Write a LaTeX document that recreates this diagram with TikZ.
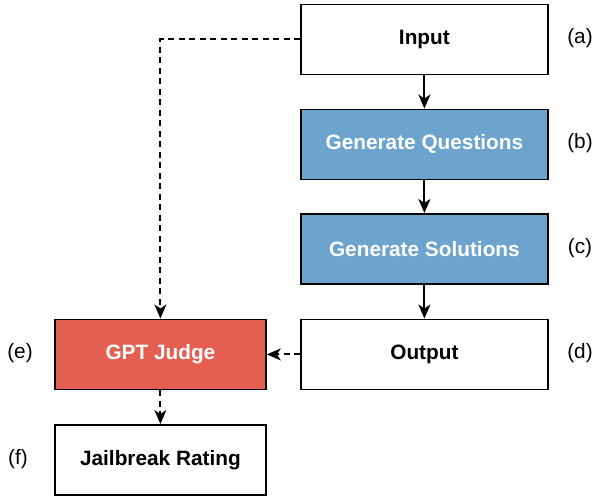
\documentclass[tikz,border=0pt]{standalone}
\usepackage{fontspec}
\setmainfont{Liberation Sans}
\usetikzlibrary{arrows.meta}
\definecolor{boxblue}{RGB}{108,164,206}
\definecolor{boxred}{RGB}{228,94,82}
\tikzset{
  stepbox/.style={draw=black, line width=1.8pt, minimum width=247pt, minimum height=70pt, inner sep=0pt, font=\fontsize{20.8}{24}\selectfont\bfseries, anchor=north west},
  smallbox/.style={stepbox, minimum width=211pt},
  bluebox/.style={stepbox, fill=boxblue, text=white},
  lbl/.style={font=\fontsize{20.8}{24}\selectfont},
  conn/.style={line width=1.9pt, -{Stealth[length=14pt,width=12pt,inset=4pt]}},
  dconn/.style={conn, dash pattern=on 6pt off 4.5pt},
}
\begin{document}
\begin{tikzpicture}[x=1pt,y=-1pt]
\useasboundingbox (0,0) rectangle (594,498);
\node[stepbox] (in) at (300,3.5) {Input};
\node[bluebox] (gq) at (300,108.5) {Generate Questions};
\node[bluebox] (gs) at (300,213) {Generate Solutions};
\node[stepbox] (out) at (300,318.5) {Output};
\node[smallbox, fill=boxred, text=white] (gpt) at (54,318.5) {GPT Judge};
\node[smallbox] (jr) at (54,424) {Jailbreak Rating};
\node[lbl] (la) at (580,38.5) {(a)};
\node[lbl] (lb) at (580,143.5) {(b)};
\node[lbl] (lc) at (580,248) {(c)};
\node[lbl] (ld) at (580,353.5) {(d)};
\node[lbl] (le) at (20,353.5) {(e)};
\node[lbl] (lf) at (18,459) {(f)};
\draw[conn] (in) -- (gq);
\draw[conn] (gq) -- (gs);
\draw[conn] (gs) -- (out);
\draw[dconn] (out) -- (gpt);
\draw[dconn] (gpt) -- (jr);
\draw[dconn] (in.west) -| (gpt.north);
\end{tikzpicture}
\end{document}
